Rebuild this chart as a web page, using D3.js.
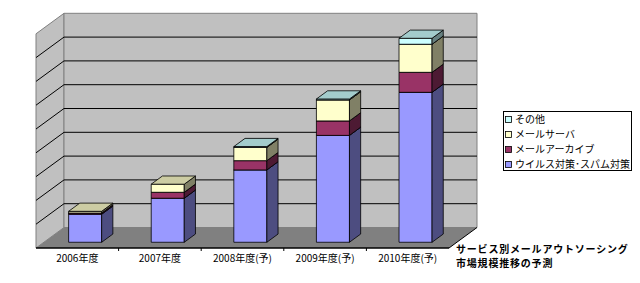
<!DOCTYPE html>
<html><head><meta charset="utf-8">
<script src="https://cdn.jsdelivr.net/npm/d3@7"></script>
<style>
html,body{margin:0;padding:0;background:#fff;}
svg{display:block;font-family:"Noto Sans CJK JP","Noto Sans",sans-serif;}
</style></head>
<body><svg id="chart" width="640" height="283"></svg>
<script>
// ---- data ----
const categories = ["2006年度","2007年度","2008年度(予)","2009年度(予)","2010年度(予)"];
const seriesNames = ["ウイルス対策･スパム対策","メールアーカイブ","メールサーバ","その他"];
const virusSpam = [1.18, 1.85, 3.04, 4.49, 6.30];
const mailArchive = [0.05, 0.25, 0.39, 0.61, 0.84];
const mailServer = [0.07, 0.34, 0.56, 0.88, 1.18];
const others = [0, 0, 0.03, 0.04, 0.25];
const valueMax = 9;
const titleLines = ["サービス別メールアウトソーシング","市場規模推移の予測"];

// ---- styles ----
const front = ["#9999FF","#993366","#FFFFCC","#CCFFFF"];
const side  = ["#4D4D80","#4D1A33","#808066","#668080"];
const top_  = ["#7A7ACC","#7A2952","#CCCCA3","#A3CCCC"];

const svg = d3.select("#chart");
const X0 = 36, X1 = 449, DX = 28, DY = 20.5;
const x = d3.scaleBand().domain(categories).range([X0, X1]).paddingInner(0.6).paddingOuter(0.3);
const y = d3.scaleLinear().domain([0, valueMax]).range([248, 33.8]);
const P = (px, v, f) => [px + f*DX, y(v) - f*DY];
const poly = pts => pts.map(p => p.join(",")).join(" ");

// walls & floor
svg.append("polygon").attr("points", poly([P(X0,0,0),P(X0,valueMax,0),P(X0,valueMax,1),P(X0,0,1)]))
  .attr("fill","#C0C0C0").attr("stroke","#808080").attr("stroke-width",1);
svg.append("polygon").attr("points", poly([P(X0,0,1),P(X0,valueMax,1),P(X1,valueMax,1),P(X1,0,1)]))
  .attr("fill","#C0C0C0").attr("stroke","#808080").attr("stroke-width",1);
svg.append("polygon").attr("points", poly([P(X0,0,0),P(X0,0,1),P(X1,0,1),P(X1,0,0)]))
  .attr("fill","#808080").attr("stroke","none");
svg.append("line").attr("x1",P(X1,0,0)[0]).attr("y1",P(X1,0,0)[1]).attr("x2",P(X1,0,1)[0]).attr("y2",P(X1,0,1)[1])
  .attr("stroke","#000").attr("stroke-width",1);

// gridlines
const grid = y.ticks(valueMax).filter(v => v > 0 && v < valueMax);
grid.forEach(v => {
  const a = P(X0,v,0), b = P(X0,v,1), c = P(X1,v,1);
  svg.append("polyline").attr("points", poly([a,b,c])).attr("fill","none").attr("stroke","#000").attr("stroke-width",1);
});

// category axis
svg.append("line").attr("x1",X0).attr("x2",X1).attr("y1",248).attr("y2",248).attr("stroke","#000").attr("stroke-width",1.5);
const step = x.step();
for (let i = 1; i < categories.length; i++) {
  const bx = X0 + i*step;
  svg.append("line").attr("x1",bx).attr("x2",bx).attr("y1",248).attr("y2",251).attr("stroke","#000");
}
svg.selectAll("text.cat").data(categories).join("text").attr("class","cat")
  .attr("x", d => x(d) + x.bandwidth()/2).attr("y", 261.5)
  .attr("text-anchor","middle").attr("font-size","10px").attr("fill","#000").text(d => d);

// stacked 3D bars
const table = categories.map((c,i) => ({cat:c, s0:virusSpam[i], s1:mailArchive[i], s2:mailServer[i], s3:others[i]}));
const stack = d3.stack().keys(["s0","s1","s2","s3"])(table);
const FF = 0.28, FB = 0.68;
categories.forEach((c, i) => {
  const xl = x(c), xr = x(c) + x.bandwidth();
  const g = svg.append("g");
  stack.forEach((layer, k) => {
    const [v0, v1] = layer[i];
    if (v1 - v0 <= 0) return;
    g.append("polygon").attr("points", poly([P(xl,v0,FF),P(xr,v0,FF),P(xr,v1,FF),P(xl,v1,FF)]))
      .attr("fill", front[k]).attr("stroke","#000").attr("stroke-width",0.8);
    g.append("polygon").attr("points", poly([P(xr,v0,FF),P(xr,v0,FB),P(xr,v1,FB),P(xr,v1,FF)]))
      .attr("fill", side[k]).attr("stroke","#000").attr("stroke-width",0.8);
    g.append("polygon").attr("points", poly([P(xl,v1,FF),P(xr,v1,FF),P(xr,v1,FB),P(xl,v1,FB)]))
      .attr("fill", top_[k]).attr("stroke","#000").attr("stroke-width",0.8);
  });
});

// legend
const lg = svg.append("g");
lg.append("rect").attr("x",503.5).attr("y",111.5).attr("width",128).attr("height",59)
  .attr("fill","#fff").attr("stroke","#000").attr("stroke-width",1);
const legendOrder = [3,2,1,0];
legendOrder.forEach((k, j) => {
  const cy = 119.5 + j*15;
  lg.append("rect").attr("x",505.5).attr("y",cy-3).attr("width",6).attr("height",6)
    .attr("fill",front[k]).attr("stroke","#000").attr("stroke-width",0.8);
  lg.append("text").attr("x",515).attr("y",cy+3.8).attr("font-size","10px").attr("fill","#000").text(seriesNames[k]);
});

// title (two lines)
titleLines.forEach((t, i) => {
  svg.append("text").attr("x",456).attr("y",252.5 + i*14.6).attr("font-size","10px").attr("font-weight","bold")
    .attr("letter-spacing","0.8px").attr("fill","#000").text(t);
});
</script></body></html>
